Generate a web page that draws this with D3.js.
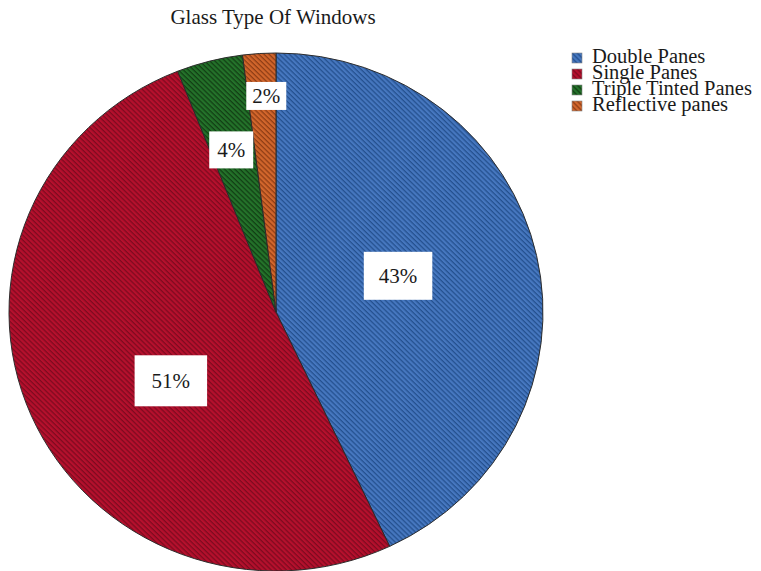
<!DOCTYPE html>
<html>
<head>
<meta charset="utf-8">
<script src="https://cdn.jsdelivr.net/npm/d3@7"></script>
<style>
  html, body { margin: 0; padding: 0; background: #fff; }
  svg { display: block; }
  text { font-family: "Liberation Serif", "Times New Roman", serif; }
</style>
</head>
<body>
<svg id="chart" width="761" height="571"></svg>
<script>
// Data
const categories = ["Double Panes", "Single Panes", "Triple Tinted Panes", "Reflective panes"];
const shares = [43, 51, 4, 2];
const title = "Glass Type Of Windows";

// Styling
const baseColors = ["#4677bf", "#b5102d", "#24722a", "#d2662c"];
const stripeColors = ["#24508f", "#7e0a1f", "#123f14", "#8f3d15"];
// Label anchors in polar form: angle (deg, clockwise from 12 o'clock) and radius fraction
const labelAngle = [73, 236, 345, 357.5];
const labelRadius = [0.478, 0.475, 0.648, 0.835];
const labelPad = [[15, 12], [17, 13.5], [8, 6.5], [6, 2]];

const W = 761, H = 571;
const cx = 276, cy = 312, rx = 267, ry = 259;
const serif = "'Liberation Serif', 'Times New Roman', serif";

const svg = d3.select("#chart");
const defs = svg.append("defs");

// Diagonal hatch pattern per slice colour
baseColors.forEach((c, i) => {
  const p = defs.append("pattern")
    .attr("id", "hatch" + i)
    .attr("patternUnits", "userSpaceOnUse")
    .attr("width", 4).attr("height", 3.6)
    .attr("patternTransform", "rotate(45)");
  p.append("rect").attr("width", 4).attr("height", 3.6).attr("fill", c);
  p.append("rect").attr("y", 0).attr("width", 4).attr("height", 1.3).attr("fill", stripeColors[i]);
});

// Title
svg.append("text")
  .attr("x", 273).attr("y", 24)
  .attr("text-anchor", "middle")
  .attr("font-family", serif)
  .attr("font-size", 21)
  .attr("fill", "#1a1a1a")
  .text(title);

// Pie (slightly squashed vertically)
const pie = d3.pie().sort(null).value(d => d)(shares);
const arc = d3.arc().innerRadius(0).outerRadius(rx);

const pieG = svg.append("g")
  .attr("transform", `translate(${cx},${cy}) scale(1,${ry / rx})`);

pieG.selectAll("path.slice")
  .data(pie)
  .join("path")
  .attr("class", "slice")
  .attr("d", arc)
  .attr("fill", (d, i) => `url(#hatch${i})`)
  .attr("stroke", "#2b2b2b")
  .attr("stroke-width", 1);

// Percentage labels in white boxes
const labelG = svg.append("g");
pie.forEach((d, i) => {
  const a = labelAngle[i] * Math.PI / 180;
  const x = cx + rx * labelRadius[i] * Math.sin(a);
  const y = cy - ry * labelRadius[i] * Math.cos(a);
  const g = labelG.append("g").attr("transform", `translate(${x},${y})`);
  const rect = g.append("rect").attr("fill", "#fff");
  const t = g.append("text")
    .attr("text-anchor", "middle")
    .attr("dominant-baseline", "central")
    .attr("font-family", serif)
    .attr("font-size", 21)
    .attr("fill", "#1a1a1a")
    .text(Math.round(d.value) + "%");
  const bb = t.node().getBBox();
  const [px, py] = labelPad[i];
  rect.attr("x", -bb.width / 2 - px)
    .attr("y", -bb.height / 2 - py)
    .attr("width", bb.width + 2 * px)
    .attr("height", bb.height + 2 * py);
});

// Legend
const legend = svg.append("g").attr("transform", "translate(572,52)");
const row = legend.selectAll("g")
  .data(categories)
  .join("g")
  .attr("transform", (d, i) => `translate(0,${i * 16})`);
row.append("rect")
  .attr("width", 10).attr("height", 10)
  .attr("y", 1)
  .attr("fill", (d, i) => `url(#hatch${i})`)
  .attr("stroke", "#888").attr("stroke-width", 0.6);
row.append("text")
  .attr("x", 20).attr("y", 11)
  .attr("font-family", serif)
  .attr("font-size", 20.5)
  .attr("fill", "#1a1a1a")
  .text(d => d);
</script>
</body>
</html>
